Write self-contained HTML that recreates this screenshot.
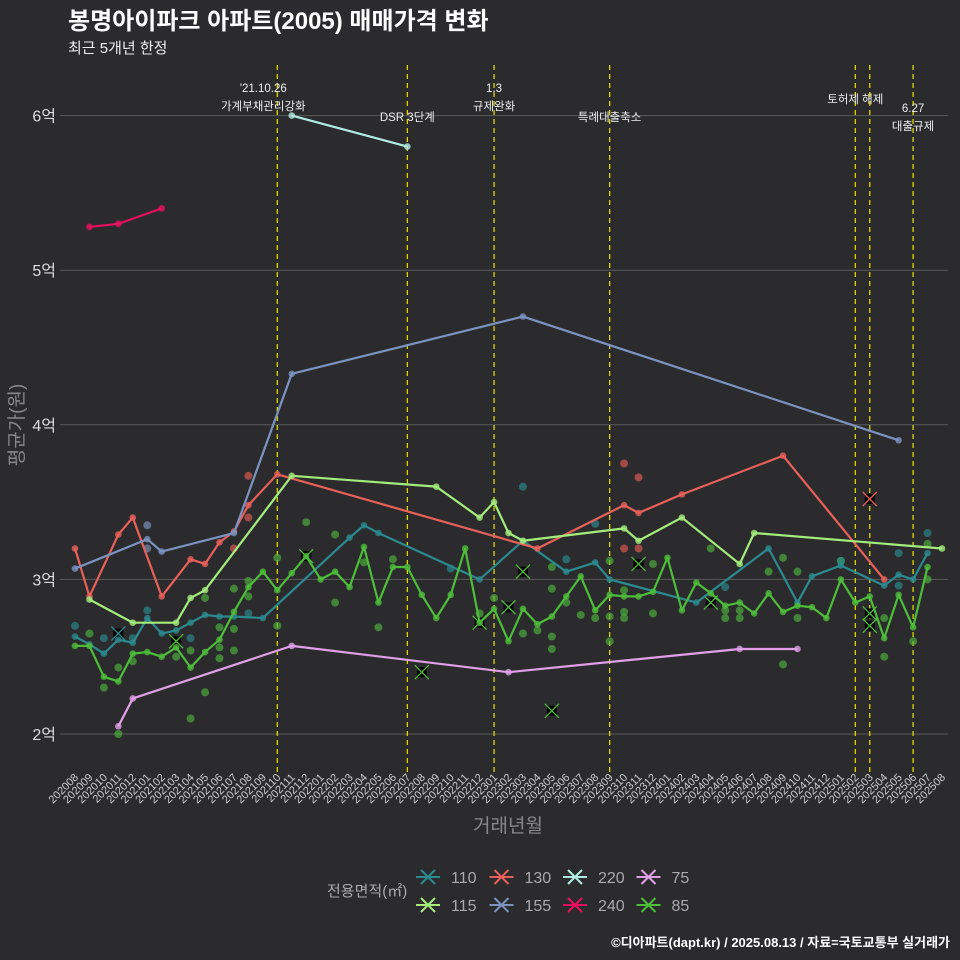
<!DOCTYPE html>
<html><head><meta charset="utf-8">
<style>
body{margin:0;background:#2b2b2d;}
svg{display:block;font-family:"Liberation Sans","Noto Sans CJK KR",sans-serif;}
</style></head>
<body>
<svg id="chart" width="960" height="960" viewBox="0 0 960 960">
<rect width="960" height="960" fill="#2b2b2d"/>
<text x="68" y="29" fill="#fff" font-size="24" font-weight="bold">봉명아이파크 아파트(2005) 매매가격 변화</text>
<text x="68" y="53" fill="#eee" font-size="15">최근 5개년 한정</text>
<g id="grid"></g><g id="vlines"></g><g id="scatter"></g><g id="lines"></g><g id="xticks"></g>
<text x="508" y="832" fill="#888" font-size="19" text-anchor="middle">거래년월</text>
<text transform="translate(23,425) rotate(-90)" fill="#888" font-size="19" text-anchor="middle">평균가(원)</text>
<text x="327" y="896" fill="#aaa" font-size="15">전용면적(㎡)</text>
<g id="legend"></g>
<text x="950" y="947" fill="#fff" font-size="13" font-weight="bold" text-anchor="end">©디아파트(dapt.kr) / 2025.08.13 / 자료=국토교통부 실거래가</text>
</svg>
<script>
const months=[];for(let y=2020,m=8;months.length<61;){months.push(y+String(m).padStart(2,'0'));m++;if(m>12){m=1;y++;}}
const yTicks=[2,3,4,5,6];
const yTickLabels=['2억','3억','4억','5억','6억'];
const s85=[2.57,2.57,2.37,2.34,2.52,2.53,2.50,2.56,2.43,2.53,2.61,2.79,2.95,3.05,2.93,3.04,3.15,3.00,3.05,2.95,3.21,2.85,3.08,3.08,2.90,2.75,2.90,3.20,2.72,2.81,2.60,2.81,2.71,2.76,2.89,3.02,2.80,2.90,2.89,2.89,2.92,3.14,2.80,2.98,2.91,2.83,2.85,2.78,2.91,2.79,2.83,2.82,2.75,3.00,2.85,2.89,2.62,2.90,2.69,3.08];
const s85idx=s85.map((v,i)=>i);
const s110idx=[0,1,2,3,4,5,6,7,8,9,10,11,13,19,20,21,28,31,34,36,37,43,48,50,51,53,56,57,58,59];
const s110=[2.63,2.58,2.52,2.61,2.59,2.75,2.65,2.67,2.72,2.77,2.76,2.76,2.75,3.27,3.35,3.30,3.00,3.25,3.05,3.11,3.00,2.85,3.20,2.85,3.02,3.09,2.96,3.03,3.00,3.17];
const s115idx=[1,4,7,8,9,15,25,28,29,30,31,38,39,42,46,47,60];
const s115=[2.87,2.72,2.72,2.88,2.93,3.67,3.60,3.40,3.50,3.30,3.25,3.33,3.25,3.40,3.10,3.30,3.20];
const s130idx=[0,1,3,4,6,8,9,10,11,12,14,32,38,39,42,49,56];
const s130=[3.20,2.89,3.29,3.40,2.89,3.13,3.10,3.24,3.31,3.48,3.68,3.20,3.48,3.43,3.55,3.80,3.00];
const s155idx=[0,5,6,11,15,31,57];
const s155=[3.07,3.26,3.18,3.30,4.33,4.70,3.90];
const s220idx=[15,23];const s220=[6.00,5.80];
const s240idx=[1,3,6];const s240=[5.28,5.30,5.40];
const s75idx=[3,4,15,30,46,50];const s75=[2.05,2.23,2.57,2.40,2.55,2.55];
const dots85idx=[1,2,3,3,4,7,8,8,9,9,10,10,10,11,11,11,12,12,14,14,16,18,18,20,21,22,29,28,31,32,33,33,33,33,34,35,36,37,37,37,38,38,38,40,40,44,45,46,45,46,48,49,49,50,50,53,56,56,58,59,59];
const dots85=[2.65,2.30,2.43,2.00,2.47,2.50,2.54,2.10,2.27,2.88,2.56,2.49,2.69,2.68,2.54,2.94,2.99,2.89,3.14,2.70,3.37,3.29,2.85,3.11,2.69,3.13,2.88,2.78,2.65,2.67,2.63,2.55,3.08,2.94,2.85,2.77,2.75,2.60,3.12,2.76,2.79,2.93,2.75,3.10,2.78,3.20,2.80,2.80,2.75,2.75,3.05,3.14,2.45,3.05,2.75,3.12,2.50,2.75,2.60,3.23,3.00];
const dots110idx=[0,2,4,5,8,26,31,34,36,53,57,57,59,12,45];
const dots110=[2.70,2.62,2.62,2.80,2.62,3.07,3.60,3.13,3.36,3.12,3.17,2.96,3.30,2.78,2.95];
const dots130idx=[12,12,11,38,39,38,39];
const dots130=[3.67,3.40,3.20,3.75,3.66,3.20,3.20];
const dots155idx=[5,5];const dots155=[3.35,3.20];
const cross85idx=[7,16,24,28,30,31,33,39,44,55,55];
const cross85=[2.60,3.15,2.40,2.72,2.82,3.05,2.15,3.10,2.85,2.78,2.70];
const cross110idx=[3];const cross110=[2.65];
const cross130idx=[55];const cross130=[3.52];
const vlineIdx=[14,23,29,37,54,55,58];
const vlineLabels=[["'21.10.26","가계부채관리강화"],["","DSR 3단계"],["1.3","규제완화"],["","특례대출축소"],["토허제 해제",""],["",""],["6.27","대출규제"]];
const xs=i=>75+i*14.45, ys=v=>734-(v-2)*154.6;
const NS='http://www.w3.org/2000/svg';
function mk(t,p,a){const e=document.createElementNS(NS,t);for(const k in a)e.setAttribute(k,a[k]);p.appendChild(e);return e;}
const G=id=>document.getElementById(id);
yTicks.forEach((v,i)=>{
 let l=mk('line',G('grid'),{x1:60,x2:948,y1:ys(v),y2:ys(v),stroke:'#5a5a5a','stroke-width':1});
 
 
 let t=mk('text',G('grid'),{x:56,y:ys(v)+6,fill:'#ddd','font-size':16,'text-anchor':'end'});t.textContent=yTickLabels[i];
 
 
});
months.forEach((m,i)=>{
 let t=mk('text',G('xticks'),{transform:`translate(${xs(i)+4},778) rotate(-45)`,fill:'#ccc','font-size':11,'text-anchor':'end'});t.textContent=m;
 
 
});
vlineIdx.forEach((i,k)=>{
 let l=mk('line',G('vlines'),{x1:xs(i),x2:xs(i),y1:65,y2:772,stroke:'#d8d800','stroke-width':1.3,'stroke-dasharray':'5,4'});
 
 
 const lb=vlineLabels[k];
 [[lb[0],92],[lb[1],110]].forEach(([s,y])=>{if(!s)return;
  let yy=y; if(k==1||k==3)yy=121; if(k==4)yy=103; if(k==6)yy=y+20;
  let t=mk('text',G('vlines'),{x:xs(i)-(k==0?14:0),y:yy,fill:'#eee','font-size':11.5,'text-anchor':'middle'});t.textContent=s;
  
  
 });
});
function dots(idx,vals,col,name){idx.forEach((i,k)=>{
 let c=mk('circle',G('scatter'),{cx:xs(i),cy:ys(vals[k]),r:4,fill:col,'fill-opacity':0.65});
 
 
});}
function crosses(idx,vals,col,name){idx.forEach((i,k)=>{
 const x=xs(i),y=ys(vals[k]);
 let g=mk('g',G('scatter'),{});
 
 
 mk('rect',g,{x:x-5,y:y-5,width:10,height:10,fill:'#000'});
 mk('path',g,{d:`M${x-7},${y-7}L${x+7},${y+7}M${x-7},${y+7}L${x+7},${y-7}`,stroke:col,'stroke-width':1.3});
});}
dots(dots85idx,dots85,'#4db33d','dot-85');
dots(dots110idx,dots110,'#2a8a8f','dot-110');
dots(dots130idx,dots130,'#e05a55','dot-130');
dots(dots155idx,dots155,'#7b93c0','dot-155');
function line(idx,vals,col,name){
 let p=mk('polyline',G('lines'),{points:idx.map((i,k)=>xs(i)+','+ys(vals[k])).join(' '),fill:'none',stroke:col,'stroke-width':2.2,'stroke-linejoin':'round'});
 
 
 idx.forEach((i,k)=>{let c=mk('circle',G('lines'),{cx:xs(i),cy:ys(vals[k]),r:3.3,fill:col,'fill-opacity':0.8});
  
  });
}
line(s110idx,s110,'#2a8a8f','line-110');
line(s130idx,s130,'#e8605a','line-130');
line(s155idx,s155,'#7b93c0','line-155');
line(s115idx,s115,'#a4ec7c','line-115');
line(s85idx,s85,'#4dbd3a','line-85');
line(s220idx,s220,'#b0ece4','line-220');
line(s240idx,s240,'#e8105e','line-240');
line(s75idx,s75,'#e0a0e8','line-75');
crosses(cross85idx,cross85,'#4dbd3a','cross-85');
crosses(cross110idx,cross110,'#2a8a8f','cross-110');
crosses(cross130idx,cross130,'#e8605a','cross-130');
const legNames=['110','130','220','75','115','155','240','85'];
const legCols=['#2a8a8f','#e8605a','#b0ece4','#e0a0e8','#a4ec7c','#7b93c0','#e8105e','#4dbd3a'];
legNames.forEach((n,k)=>{
 const x=416+(k%4)*73.5,y=k<4?877:905;
 let g=mk('g',G('legend'),{});
 
 
 mk('path',g,{d:`M${x},${y}H${x+24}M${x+5},${y-7}L${x+19},${y+7}M${x+5},${y+7}L${x+19},${y-7}`,stroke:legCols[k],'stroke-width':2});
 let t=mk('text',g,{x:x+35,y:y+6,fill:'#aaa','font-size':16});t.textContent=n;
});
</script>
</body></html>
